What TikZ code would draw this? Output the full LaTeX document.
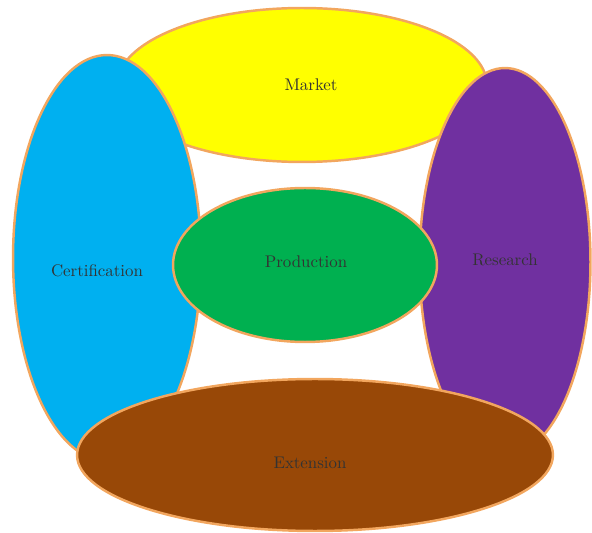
\documentclass[tikz,border=0pt]{standalone}
\usepackage{tikz}
\usetikzlibrary{shapes.geometric}
\definecolor{areaMarket}{HTML}{FFFF00}
\definecolor{areaCert}{HTML}{00B0F0}
\definecolor{areaResearch}{HTML}{7030A0}
\definecolor{areaProd}{HTML}{00B050}
\definecolor{areaExt}{HTML}{984807}
\definecolor{areaEdge}{HTML}{F2A65E}
\definecolor{areaText}{HTML}{333333}
\tikzset{
    blob/.style={ellipse, draw=areaEdge, line width=1.4pt, inner sep=0pt},
    blobtext/.style={text=areaText, font=\fontsize{9.6}{11}\selectfont}
}

\begin{document}
\begin{tikzpicture}[x=0.02cm, y=-0.02cm]
            \useasboundingbox (0,0) rectangle (592,533);
            \node[blob, fill=areaMarket, minimum width=7.4cm, minimum height=3.08cm] (market) at (302,85) {};
            \node[blob, fill=areaCert, minimum width=3.76cm, minimum height=8.12cm] (cert) at (107,258) {};
            \node[blob, fill=areaResearch, minimum width=3.42cm, minimum height=7.76cm] (research) at (505,262) {};
            \node[blob, fill=areaExt, minimum width=9.52cm, minimum height=3.04cm] (ext) at (315,455) {};
            \node[blob, fill=areaProd, minimum width=5.28cm, minimum height=3.08cm] (prod) at (305,265) {};
            \node[blobtext] (marketLbl) at (311,85) {Market};
            \node[blobtext] (certLbl) at (97,271) {Certification};
            \node[blobtext] (researchLbl) at (505,260) {Research};
            \node[blobtext] (prodLbl) at (306,262) {Production};
            \node[blobtext] (extLbl) at (310,463) {Extension};
        \end{tikzpicture}
\end{document}
